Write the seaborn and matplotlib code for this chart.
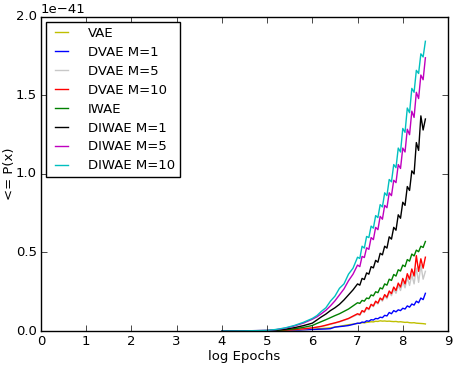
import numpy as np
import pandas as pd
import seaborn as sns
import matplotlib.pyplot as plt

# log epochs
log_epochs = [4.0, 4.5, 5.0, 5.2, 5.4, 5.6, 5.8,
              6.0, 6.1, 6.2, 6.3, 6.4, 6.5, 6.6, 6.7, 6.8, 6.9,
              7.0, 7.05, 7.1, 7.15, 7.2, 7.25, 7.3, 7.35, 7.4, 7.45, 7.5, 7.55,
              7.6, 7.65, 7.7, 7.75, 7.8, 7.85, 7.9, 7.95, 8.0, 8.05, 8.1, 8.15,
              8.2, 8.25, 8.3, 8.35, 8.4, 8.45, 8.5]

# valores en unidades de 1e-41
vae = [0.0, 0.0003, 0.001, 0.002, 0.004, 0.006, 0.009,
       0.012, 0.014, 0.016, 0.018, 0.020, 0.025, 0.030, 0.035, 0.040, 0.044,
       0.048, 0.050, 0.053, 0.052, 0.055, 0.057, 0.059, 0.058, 0.062, 0.061, 0.065, 0.063,
       0.064, 0.062, 0.063, 0.061, 0.060, 0.061, 0.058, 0.059, 0.057, 0.055, 0.056, 0.053,
       0.052, 0.053, 0.050, 0.049, 0.048, 0.047, 0.045]
dvae_m1 = [0.0, 0.0003, 0.001, 0.002, 0.003, 0.005, 0.008,
           0.010, 0.011, 0.012, 0.013, 0.015, 0.025, 0.028, 0.031, 0.035, 0.042,
           0.050, 0.049, 0.057, 0.055, 0.065, 0.062, 0.072, 0.070, 0.080, 0.078, 0.088, 0.085,
           0.100, 0.096, 0.118, 0.110, 0.130, 0.122, 0.135, 0.130, 0.145, 0.140, 0.160, 0.152,
           0.172, 0.165, 0.190, 0.180, 0.210, 0.200, 0.240]
dvae_m5 = [0.0, 0.0005, 0.001, 0.003, 0.005, 0.008, 0.013,
           0.019, 0.023, 0.028, 0.035, 0.042, 0.050, 0.058, 0.068, 0.078, 0.092,
           0.105, 0.100, 0.125, 0.118, 0.145, 0.135, 0.165, 0.155, 0.185, 0.172, 0.205, 0.190,
           0.225, 0.205, 0.245, 0.225, 0.265, 0.240, 0.290, 0.258, 0.315, 0.275, 0.340, 0.290,
           0.360, 0.300, 0.400, 0.310, 0.420, 0.330, 0.380]
dvae_m10 = [0.0, 0.0005, 0.001, 0.003, 0.005, 0.009, 0.014,
            0.020, 0.025, 0.030, 0.037, 0.045, 0.052, 0.060, 0.070, 0.080, 0.095,
            0.110, 0.104, 0.130, 0.122, 0.150, 0.140, 0.170, 0.160, 0.190, 0.178, 0.210, 0.198,
            0.232, 0.215, 0.255, 0.238, 0.280, 0.258, 0.305, 0.280, 0.335, 0.300, 0.365, 0.330,
            0.395, 0.350, 0.480, 0.380, 0.460, 0.400, 0.470]
iwae = [0.0, 0.0005, 0.002, 0.004, 0.008, 0.014, 0.023,
        0.035, 0.048, 0.060, 0.072, 0.085, 0.098, 0.110, 0.125, 0.140, 0.160,
        0.180, 0.176, 0.195, 0.190, 0.210, 0.206, 0.230, 0.224, 0.250, 0.244, 0.275, 0.268,
        0.300, 0.292, 0.330, 0.322, 0.360, 0.350, 0.390, 0.382, 0.420, 0.410, 0.455, 0.445,
        0.490, 0.478, 0.515, 0.505, 0.540, 0.532, 0.570]
diwae_m1 = [0.0, 0.001, 0.003, 0.006, 0.012, 0.021, 0.034,
            0.050, 0.070, 0.090, 0.108, 0.130, 0.148, 0.170, 0.198, 0.230, 0.262,
            0.300, 0.292, 0.335, 0.328, 0.370, 0.362, 0.410, 0.402, 0.450, 0.438, 0.495, 0.485,
            0.540, 0.528, 0.600, 0.585, 0.660, 0.642, 0.740, 0.718, 0.820, 0.800, 0.920, 0.895,
            1.020, 1.000, 1.200, 1.150, 1.370, 1.280, 1.350]
diwae_m5 = [0.0, 0.001, 0.004, 0.009, 0.018, 0.032, 0.050,
            0.075, 0.090, 0.110, 0.132, 0.160, 0.192, 0.230, 0.268, 0.320, 0.362,
            0.420, 0.410, 0.475, 0.468, 0.530, 0.520, 0.595, 0.582, 0.660, 0.645, 0.730, 0.712,
            0.800, 0.785, 0.880, 0.862, 0.960, 0.945, 1.060, 1.035, 1.165, 1.140, 1.285, 1.250,
            1.400, 1.360, 1.520, 1.480, 1.630, 1.600, 1.740]
diwae_m10 = [0.0, 0.001, 0.004, 0.010, 0.020, 0.035, 0.055,
             0.080, 0.098, 0.125, 0.148, 0.190, 0.222, 0.272, 0.300, 0.362, 0.400,
             0.470, 0.462, 0.540, 0.528, 0.602, 0.595, 0.668, 0.655, 0.735, 0.722, 0.805, 0.790,
             0.880, 0.862, 0.965, 0.950, 1.060, 1.040, 1.165, 1.140, 1.290, 1.265, 1.420, 1.390,
             1.545, 1.520, 1.660, 1.640, 1.765, 1.745, 1.845]

labels = ['VAE', 'DVAE M=1', 'DVAE M=5', 'DVAE M=10', 'IWAE',
          'DIWAE M=1', 'DIWAE M=5', 'DIWAE M=10']
series = [vae, dvae_m1, dvae_m5, dvae_m10, iwae, diwae_m1, diwae_m5, diwae_m10]
colors = ['#bfbf00', '#0000ff', '#c8c8c8', '#ff0000', '#008000',
          '#000000', '#bf00bf', '#00bfbf']

rows = []
for name, vals in zip(labels, series):
    for x, v in zip(log_epochs, vals):
        rows.append({'log Epochs': x, 'P': v * 1e-41, 'model': name})
df = pd.DataFrame(rows)

plt.style.use('classic')
plt.rcParams['font.family'] = ['DejaVu Sans']

fig = plt.figure(figsize=(4.57, 3.68), dpi=100, facecolor='white')
ax = fig.add_axes([0.0897, 0.1005, 0.8906, 0.8535])

sns.lineplot(data=df, x='log Epochs', y='P', hue='model', hue_order=labels,
             palette=dict(zip(labels, colors)), estimator=None, sort=False,
             linewidth=1.0, ax=ax)

ax.set_xlim(0, 9)
ax.set_ylim(0, 2e-41)
ax.set_xticks(range(0, 10))
ax.set_yticks(np.array([0.0, 0.5, 1.0, 1.5, 2.0]) * 1e-41)
ax.tick_params(labelsize=9.5, direction='in', top=True, right=True, pad=3)
ax.yaxis.get_offset_text().set_fontsize(9.5)
ax.set_xlabel('log Epochs', fontsize=9.5, labelpad=1)
ax.set_ylabel('<= P(x)', fontsize=9.5, labelpad=0)

handles, lbls = ax.get_legend_handles_labels()
leg = ax.legend(handles, lbls, loc='upper left', fontsize=9.5, frameon=True,
                fancybox=False, handlelength=1.6, handletextpad=1.2,
                labelspacing=0.45, borderpad=0.35, borderaxespad=0.4)
leg.get_frame().set_edgecolor('black')

fig.savefig('out.png', dpi=100, facecolor='white')
